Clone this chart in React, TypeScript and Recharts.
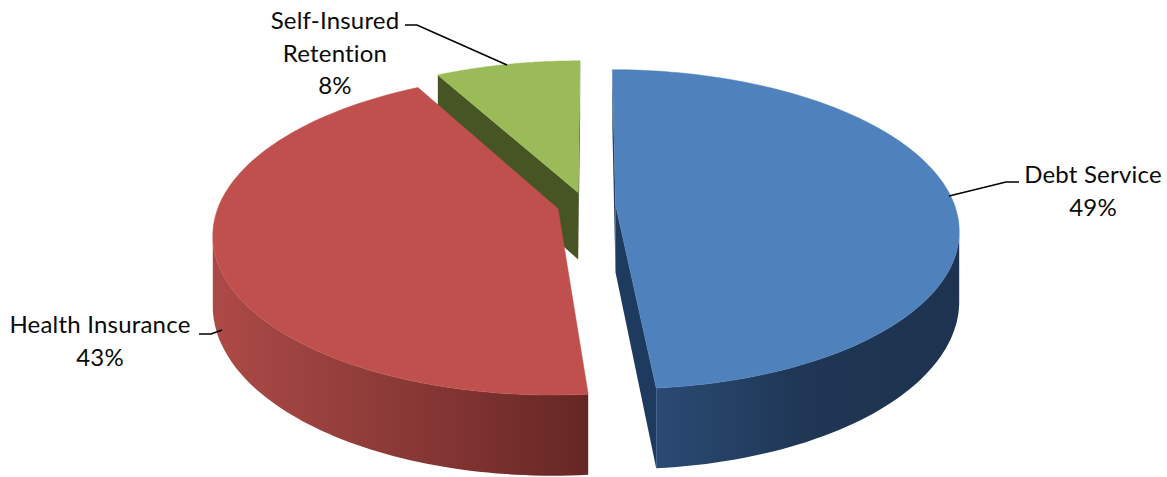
import React from 'react';
import { PieChart, Pie } from 'recharts';

const names = ['Self-Insured Retention', 'Debt Service', 'Health Insurance'];
const values = [8.0, 48.55, 43.45];
const data = names.map((name, i) => ({ name, value: values[i] }));

const topColors: Record<string, string> = {
  'Self-Insured Retention': '#9bbb59',
  'Debt Service': '#4f81bd',
  'Health Insurance': '#c0504d',
};
const wallColors: Record<string, string> = {
  'Self-Insured Retention': '#465523',
  'Debt Service': '#1f3a5f',
  'Health Insurance': '#7c2f2d',
};
// outer wall gradient, left to right
const rimStops: Record<string, string[]> = {
  'Self-Insured Retention': ['#5c7030', '#465523'],
  'Debt Service': ['#2a4a73', '#1f3654', '#1d3350'],
  'Health Insurance': ['#ad4a47', '#953f3c', '#7f3331', '#652724'],
};
const explode: Record<string, number> = {
  'Self-Insured Retention': 0.083,
  'Debt Service': 0.09,
  'Health Insurance': 0.083,
};

// label text lines and leader lines, in chart pixels
const labelLines: Record<string, string[]> = {
  'Self-Insured Retention': ['Self-Insured', 'Retention'],
  'Debt Service': ['Debt Service'],
  'Health Insurance': ['Health Insurance'],
};
const labelAnchor: Record<string, [number, number]> = {
  'Self-Insured Retention': [335, 29],
  'Debt Service': [1093, 183],
  'Health Insurance': [100, 333],
};
const leaders: Record<string, string> = {
  'Self-Insured Retention': '405,25 417,25 507,65',
  'Debt Service': '949,196 1006,182 1019,182',
  'Health Insurance': '199,334 211,334 222,330',
};

const WIDTH = 1167;
const HEIGHT = 477;
const TILT = 0.46;
const PERSP = 0.156;
const DEPTH = 0.2;

const Slice3D = (props: any) => {
  const { cx, cy, outerRadius: rx, startAngle, endAngle, midAngle, name, payload } = props;
  const key = name ?? payload?.name;
  const rad = (d: number) => (d * Math.PI) / 180;
  // recharts angles to clock angles (0 at the top, clockwise)
  const c0 = 90 - startAngle;
  const c1 = 90 - endAngle;
  const cm = 90 - midAngle;
  const ox = Math.sin(rad(cm)) * explode[key];
  const oy = -Math.cos(rad(cm)) * explode[key];

  const pt = (X: number, Y: number, z: number) => {
    const s = 1 / (1 - PERSP * Y);
    return [cx + rx * X * s, cy + rx * TILT * Y * s + rx * DEPTH * z * s];
  };
  const rim = (c: number, z: number) => pt(ox + Math.sin(rad(c)), oy - Math.cos(rad(c)), z);
  const apex = (z: number) => pt(ox, oy, z);
  const d = (pts: number[][]) =>
    'M' + pts.map((p) => p[0].toFixed(1) + ',' + p[1].toFixed(1)).join('L') + 'Z';

  const steps = 120;
  const arc: number[] = [];
  for (let i = 0; i <= steps; i++) arc.push(c0 + ((c1 - c0) * i) / steps);

  const top = [apex(0), ...arc.map((c) => rim(c, 0))];

  // only the part of the rim where x falls with the clock angle faces the viewer
  const front = arc.filter((c, i) => {
    const next = arc[i + 1] ?? c + 0.01;
    const prev = arc[i - 1] ?? c - 0.01;
    return rim(next, 0)[0] < rim(c, 0)[0] || rim(c, 0)[0] < rim(prev, 0)[0];
  });
  const gradId = 'rim-' + String(key).replace(/\W/g, '');
  const xs = front.map((c) => rim(c, 0)[0]);
  const stops = rimStops[key];

  const startRim = rim(c0, 0);
  const endRim = rim(c1, 0);
  const a0 = apex(0);

  return (
    <g>
      {front.length > 1 && (
        <defs>
          <linearGradient
            id={gradId}
            gradientUnits="userSpaceOnUse"
            x1={Math.min(...xs)}
            x2={Math.max(...xs)}
            y1={0}
            y2={0}
          >
            {stops.map((s, i) => (
              <stop key={i} offset={i / (stops.length - 1)} stopColor={s} />
            ))}
          </linearGradient>
        </defs>
      )}
      {startRim[0] < a0[0] && (
        <path d={d([apex(0), rim(c0, 0), rim(c0, 1), apex(1)])} fill={wallColors[key]} />
      )}
      {endRim[0] > a0[0] && (
        <path d={d([apex(0), rim(c1, 0), rim(c1, 1), apex(1)])} fill={wallColors[key]} />
      )}
      {front.length > 1 && (
        <path
          d={d([...front.map((c) => rim(c, 0)), ...[...front].reverse().map((c) => rim(c, 1))])}
          fill={`url(#${gradId})`}
        />
      )}
      <path d={d(top)} fill={topColors[key]} stroke={topColors[key]} strokeWidth={0.5} />
    </g>
  );
};

const renderLabel = (props: any) => {
  const { name, value } = props;
  const [x, y] = labelAnchor[name];
  const lines = [...labelLines[name], `${Math.round(value)}%`];
  return (
    <g key={name}>
      <polyline points={leaders[name]} fill="none" stroke="#000" strokeWidth={1.6} />
      <text
        x={x}
        y={y}
        textAnchor="middle"
        fontFamily="Lato, 'Open Sans', sans-serif"
        fontSize={24}
        letterSpacing={0.2}
        fill="#0a0a0a"
      >
        {lines.map((line, i) => (
          <tspan key={i} x={x} dy={i === 0 ? 0 : 32.5}>
            {line}
          </tspan>
        ))}
      </text>
    </g>
  );
};

export default function App() {
  return (
    <div style={{ position: 'absolute', left: 0, top: 0, width: WIDTH, height: HEIGHT, background: '#fff' }}>
      <PieChart width={WIDTH} height={HEIGHT} margin={{ top: 0, right: 0, bottom: 0, left: 0 }}>
        <Pie
          data={data}
          dataKey="value"
          nameKey="name"
          cx={585}
          cy={205}
          outerRadius={339}
          startAngle={118.6}
          endAngle={-241.4}
          stroke="none"
          isAnimationActive={false}
          shape={Slice3D}
          label={renderLabel}
          labelLine={false}
        />
      </PieChart>
    </div>
  );
}
